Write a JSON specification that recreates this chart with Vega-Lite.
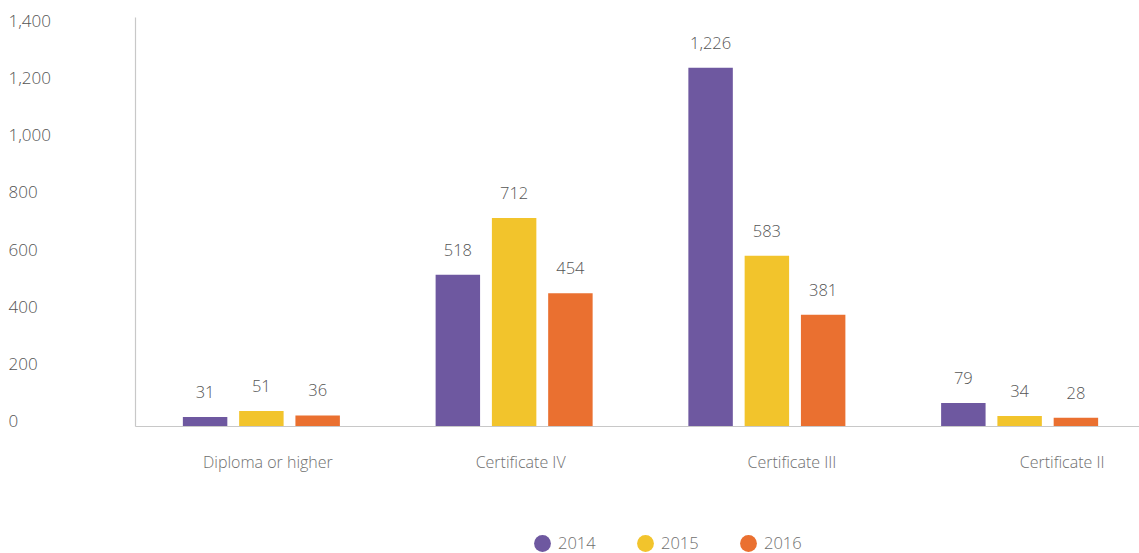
{
  "$schema": "https://vega.github.io/schema/vega-lite/v6.json",
  "autosize": "none",
  "width": 1011,
  "height": 409,
  "padding": {"left": 135, "top": 17, "right": 0, "bottom": 127},
  "background": "white",
  "config": {
    "view": {"stroke": null},
    "font": "Open Sans",
    "text": {"font": "Open Sans"}
  },
  "data": {
    "values": [
      {"qualification": "Diploma or higher", "year": "2014", "count": 31},
      {"qualification": "Diploma or higher", "year": "2015", "count": 51},
      {"qualification": "Diploma or higher", "year": "2016", "count": 36},
      {"qualification": "Certificate IV", "year": "2014", "count": 518},
      {"qualification": "Certificate IV", "year": "2015", "count": 712},
      {"qualification": "Certificate IV", "year": "2016", "count": 454},
      {"qualification": "Certificate III", "year": "2014", "count": 1226},
      {"qualification": "Certificate III", "year": "2015", "count": 583},
      {"qualification": "Certificate III", "year": "2016", "count": 381},
      {"qualification": "Certificate II", "year": "2014", "count": 79},
      {"qualification": "Certificate II", "year": "2015", "count": 34},
      {"qualification": "Certificate II", "year": "2016", "count": 28}
    ]
  },
  "encoding": {
    "x": {
      "field": "qualification",
      "type": "nominal",
      "sort": ["Diploma or higher", "Certificate IV", "Certificate III", "Certificate II"],
      "scale": {"paddingInner": 0.332, "paddingOuter": 0.166},
      "axis": {
        "title": null,
        "labelAngle": 0,
        "ticks": false,
        "tickSize": 0,
        "domainColor": "#c8c8c8",
        "domainWidth": 1.2,
        "labelFont": "Open Sans",
        "labelFontWeight": 300,
        "labelFontSize": 16,
        "labelColor": "#6f6f6f",
        "labelPadding": 28,
        "labelBaseline": "top",
        "labelOffset": {
          "condition": [
            {"test": "datum.value === 'Certificate III'", "value": 25},
            {"test": "datum.value === 'Certificate II'", "value": 42.5}
          ],
          "value": 6.5
        },
        "grid": false
      }
    },
    "xOffset": {
      "field": "year",
      "type": "nominal",
      "scale": {"paddingInner": 0.21, "paddingOuter": 0.105}
    },
    "y": {
      "field": "count",
      "type": "quantitative",
      "scale": {"domain": [0, 1400], "nice": false},
      "axis": {
        "title": null,
        "values": [0, 200, 400, 600, 800, 1000, 1200, 1400],
        "format": ",.0f",
        "grid": false,
        "ticks": false,
        "tickSize": 0,
        "domainColor": "#c8c8c8",
        "domainWidth": 1.2,
        "labelAlign": "left",
        "labelPadding": 127,
        "labelFont": "Open Sans",
        "labelFontWeight": 300,
        "labelFontSize": 17,
        "labelColor": "#555555",
        "labelOffset": {
          "condition": [
            {"test": "datum.value === 0", "value": -4.5},
            {"test": "datum.value === 200", "value": -3.2},
            {"test": "datum.value === 400", "value": -1.9},
            {"test": "datum.value === 600", "value": -0.6},
            {"test": "datum.value === 800", "value": 0.7},
            {"test": "datum.value === 1000", "value": 2},
            {"test": "datum.value === 1200", "value": 3.3}
          ],
          "value": 4.6
        }
      }
    }
  },
  "layer": [
    {
      "mark": {"type": "bar"},
      "encoding": {
        "color": {
          "field": "year",
          "type": "nominal",
          "scale": {"domain": ["2014", "2015", "2016"], "range": ["#6e58a0", "#f2c42c", "#ea7030"]},
          "legend": {
            "title": null,
            "orient": "none",
            "direction": "horizontal",
            "legendX": 399,
            "legendY": 518,
            "padding": 0,
            "symbolType": "circle",
            "symbolSize": 283,
            "symbolStrokeWidth": 0,
            "symbolOpacity": 1,
            "labelFont": "Open Sans",
            "labelFontWeight": 300,
            "labelFontSize": 16.5,
            "labelColor": "#6f6f6f",
            "labelOffset": 7,
            "columnPadding": 41
          }
        }
      }
    },
    {
      "mark": {
        "type": "text",
        "baseline": "alphabetic",
        "dy": -19,
        "font": "Open Sans",
        "fontWeight": 300,
        "fontSize": 16.5,
        "color": "#555555"
      },
      "encoding": {
        "text": {"field": "count", "type": "quantitative", "format": ",.0f"}
      }
    }
  ]
}
